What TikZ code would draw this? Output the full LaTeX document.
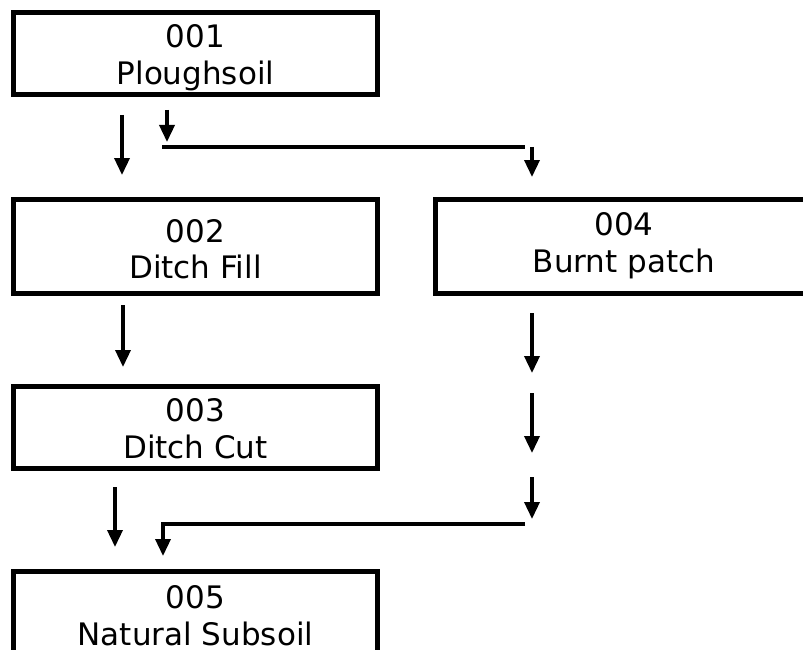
\documentclass[tikz,border=0pt]{standalone}
\usepackage{fontspec}
\setmainfont{DejaVu Sans}
\usetikzlibrary{arrows.meta}
\begin{document}
\begin{tikzpicture}[x=1pt,y=-1pt,
  unitbox/.style={draw,line width=5pt,rectangle,inner sep=0pt,outer sep=0pt},
  unittext/.style={anchor=base,inner sep=0pt,outer sep=0pt,font=\fontsize{31}{37}\selectfont},
  flow/.style={line width=3.5pt,-{Triangle[length=17pt,width=15pt]}},
  rule/.style={line width=3.5pt}]
\useasboundingbox (0,0) rectangle (803,650);
\clip (0,0) rectangle (803,650);
\fill[white] (0,0) rectangle (803,650);

% context boxes
\node[unitbox,minimum width=364pt,minimum height=82pt] (b1) at (195.5,53.5) {};
\node[unitbox,minimum width=364pt,minimum height=94pt] (b2) at (195.5,246.5) {};
\node[unitbox,minimum width=364pt,minimum height=82pt] (b3) at (195.5,427.5) {};
\node[unitbox,minimum width=382pt,minimum height=94pt] (b4) at (626.5,246.5) {};
\node[unitbox,minimum width=364pt,minimum height=90pt] (b5) at (195.5,616.5) {};

% context numbers and descriptions
\node[unittext] (n1) at (195.5,48) {001};
\node[unittext] (d1) at (195.5,85) {Ploughsoil};
\node[unittext] (n2) at (195.5,242) {002};
\node[unittext] (d2) at (195.5,278) {Ditch Fill};
\node[unittext] (n3) at (195.5,421) {003};
\node[unittext] (d3) at (195.5,458) {Ditch Cut};
\node[unittext] (n4) at (624,235) {004};
\node[unittext] (d4) at (624,272) {Burnt patch};
\node[unittext] (n5) at (195.5,608) {005};
\node[unittext] (d5) at (195.5,645) {Natural Subsoil};

% connector end points
\coordinate (p1a) at (122,115);  \coordinate (p1b) at (122,175);
\coordinate (p2a) at (167,110);  \coordinate (p2b) at (167,142);
\coordinate (h1a) at (162,147);  \coordinate (h1b) at (525,147);
\coordinate (p3a) at (532,147);  \coordinate (p3b) at (532,177);
\coordinate (p4a) at (123,305);  \coordinate (p4b) at (123,367);
\coordinate (p5a) at (532,313);  \coordinate (p5b) at (532,373);
\coordinate (p6a) at (532,393);  \coordinate (p6b) at (532,453);
\coordinate (p7a) at (532,477);  \coordinate (p7b) at (532,519);
\coordinate (p8a) at (115,487);  \coordinate (p8b) at (115,547);
\coordinate (h2a) at (525,524);  \coordinate (h2c) at (163,524);
\coordinate (h2b) at (163,556);

% stratigraphic links
\draw[flow] (p1a) -- (p1b);
\draw[flow] (p2a) -- (p2b);
\draw[rule] (h1a) -- (h1b);
\draw[flow] (p3a) -- (p3b);
\draw[flow] (p4a) -- (p4b);
\draw[flow] (p5a) -- (p5b);
\draw[flow] (p6a) -- (p6b);
\draw[flow] (p7a) -- (p7b);
\draw[flow] (p8a) -- (p8b);
\draw[flow] (h2a) -- (h2c) -- (h2b);
\end{tikzpicture}
\end{document}
